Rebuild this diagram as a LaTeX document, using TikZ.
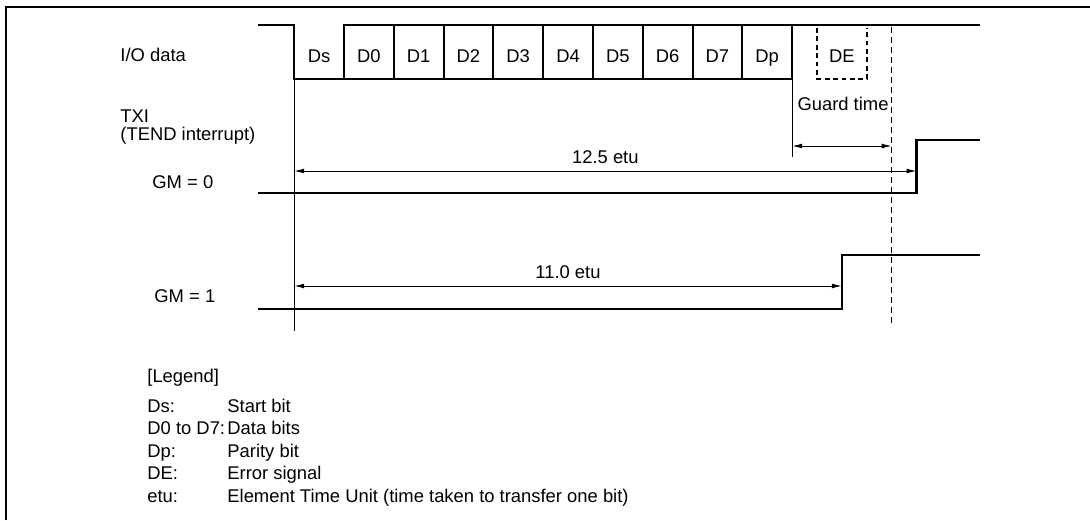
\documentclass[tikz,border=0pt]{standalone}
\usepackage{fontspec}
\setmainfont{Liberation Sans}
\usetikzlibrary{arrows.meta, positioning, calc}

\tikzset{
  wave/.style={line width=1.3pt, line join=miter},
  ioline/.style={line width=1pt},
  bitbox/.style={draw, line width=1pt, minimum width=24.9pt, minimum height=27pt, inner sep=0pt, outer sep=0pt, text height=10pt, text depth=0pt},
  thinline/.style={line width=0.5pt},
  dimline/.style={line width=0.5pt, {Latex[length=5pt,width=2.4pt]}-{Latex[length=5pt,width=2.4pt]}},
  markline/.style={line width=0.6pt, dash pattern=on 3pt off 2pt},
  debox/.style={line width=1pt, dash pattern=on 2.4pt off 1.8pt},
  sig/.style={anchor=base west, inner sep=0pt},
}

\begin{document}
\begin{tikzpicture}[x=0.5pt, y=-0.5pt, every node/.style={font=\fontsize{9.2}{11}\selectfont}]
\useasboundingbox (0,0) rectangle (1090,520);
% frame
\draw[line width=1.2pt] (6,520) -- (6,7) -- (1090,7);

% signal names
\node[sig] (io) at (120,61) {I/O data};
\node[sig] (txi) at (120,122) {TXI};
\node[sig] (tend) at (120,140) {(TEND interrupt)};
\node[sig] (gm0) at (152,188) {GM = 0};
\node[sig] (gm1) at (154,302) {GM = 1};

% I/O data frame
\node[bitbox, draw=none] (ds) at (319,52) {Ds};
\foreach \b [remember=\b as \prev (initially s)] in {0,...,7,p}
  \node[bitbox, right=0pt of d\prev] (d\b) {D\b};
\node[bitbox, draw=none, right=12.45pt of dp] (de) {DE};
\draw[debox] ([yshift=-1.5pt]de.north west) -- (de.south west) -- (de.south east) -- ([yshift=-1.5pt]de.north east);

\coordinate (iostart) at (258,25);
\coordinate (ioend) at (980,25);
\draw[ioline] (iostart) -- (ds.north west) -- (ds.south west) -- (ds.south east);
\draw[ioline] (dp.north east) -- (ioend);

% time marks
\coordinate (t11) at ($(ds.south west)!1.1!(dp.south east)$);
\coordinate (t12) at ($(ds.south west)!1.2!(dp.south east)$);
\coordinate (t125) at ($(ds.south west)!1.25!(dp.south east)$);
\draw[thinline] (ds.south west) -- ++(0,252) coordinate (t0foot);
\draw[markline] ([yshift=26pt]t12) -- ([yshift=-124pt]t12);

% guard time
\draw[thinline] (dp.south east) -- ++(0,78) coordinate (gtfoot);
\node[anchor=base, inner sep=0pt] (gt) at (843,110) {Guard time};
\coordinate (gtarr) at ([yshift=5.5pt]gtfoot);
\draw[dimline] (gtarr) -- (gtarr -| t12);

% GM = 0
\coordinate (gm0start) at (258,193);
\coordinate (gm0end) at (980,140);
\coordinate (arr0) at (0,171);
\draw[wave] (gm0start) -- (gm0start -| t125) |- (gm0end);
\draw[dimline] (arr0 -| ds.south west) -- (arr0 -| t125) node[midway, above=3.5pt, inner sep=0pt] (lab0) {12.5 etu};

% GM = 1
\coordinate (gm1start) at (258,309);
\coordinate (gm1end) at (980,255);
\coordinate (arr1) at (0,286);
\draw[wave] (gm1start) -- (gm1start -| t11) |- (gm1end);
\draw[dimline] (arr1 -| ds.south west) -- (arr1 -| t11) node[midway, above=3.5pt, inner sep=0pt] (lab1) {11.0 etu};

% legend
\node[sig] (legend) at (147,382) {[Legend]};
\foreach \key/\desc [count=\r] in {Ds:/Start bit, D0 to D7:/Data bits, Dp:/Parity bit, DE:/Error signal, etu:/Element Time Unit (time taken to transfer one bit)} {
  \node[sig] (key\r) at (147,{389.5+22.5*\r}) {\key};
  \node[sig] (desc\r) at (227,{389.5+22.5*\r}) {\desc};
}
\end{tikzpicture}
\end{document}
